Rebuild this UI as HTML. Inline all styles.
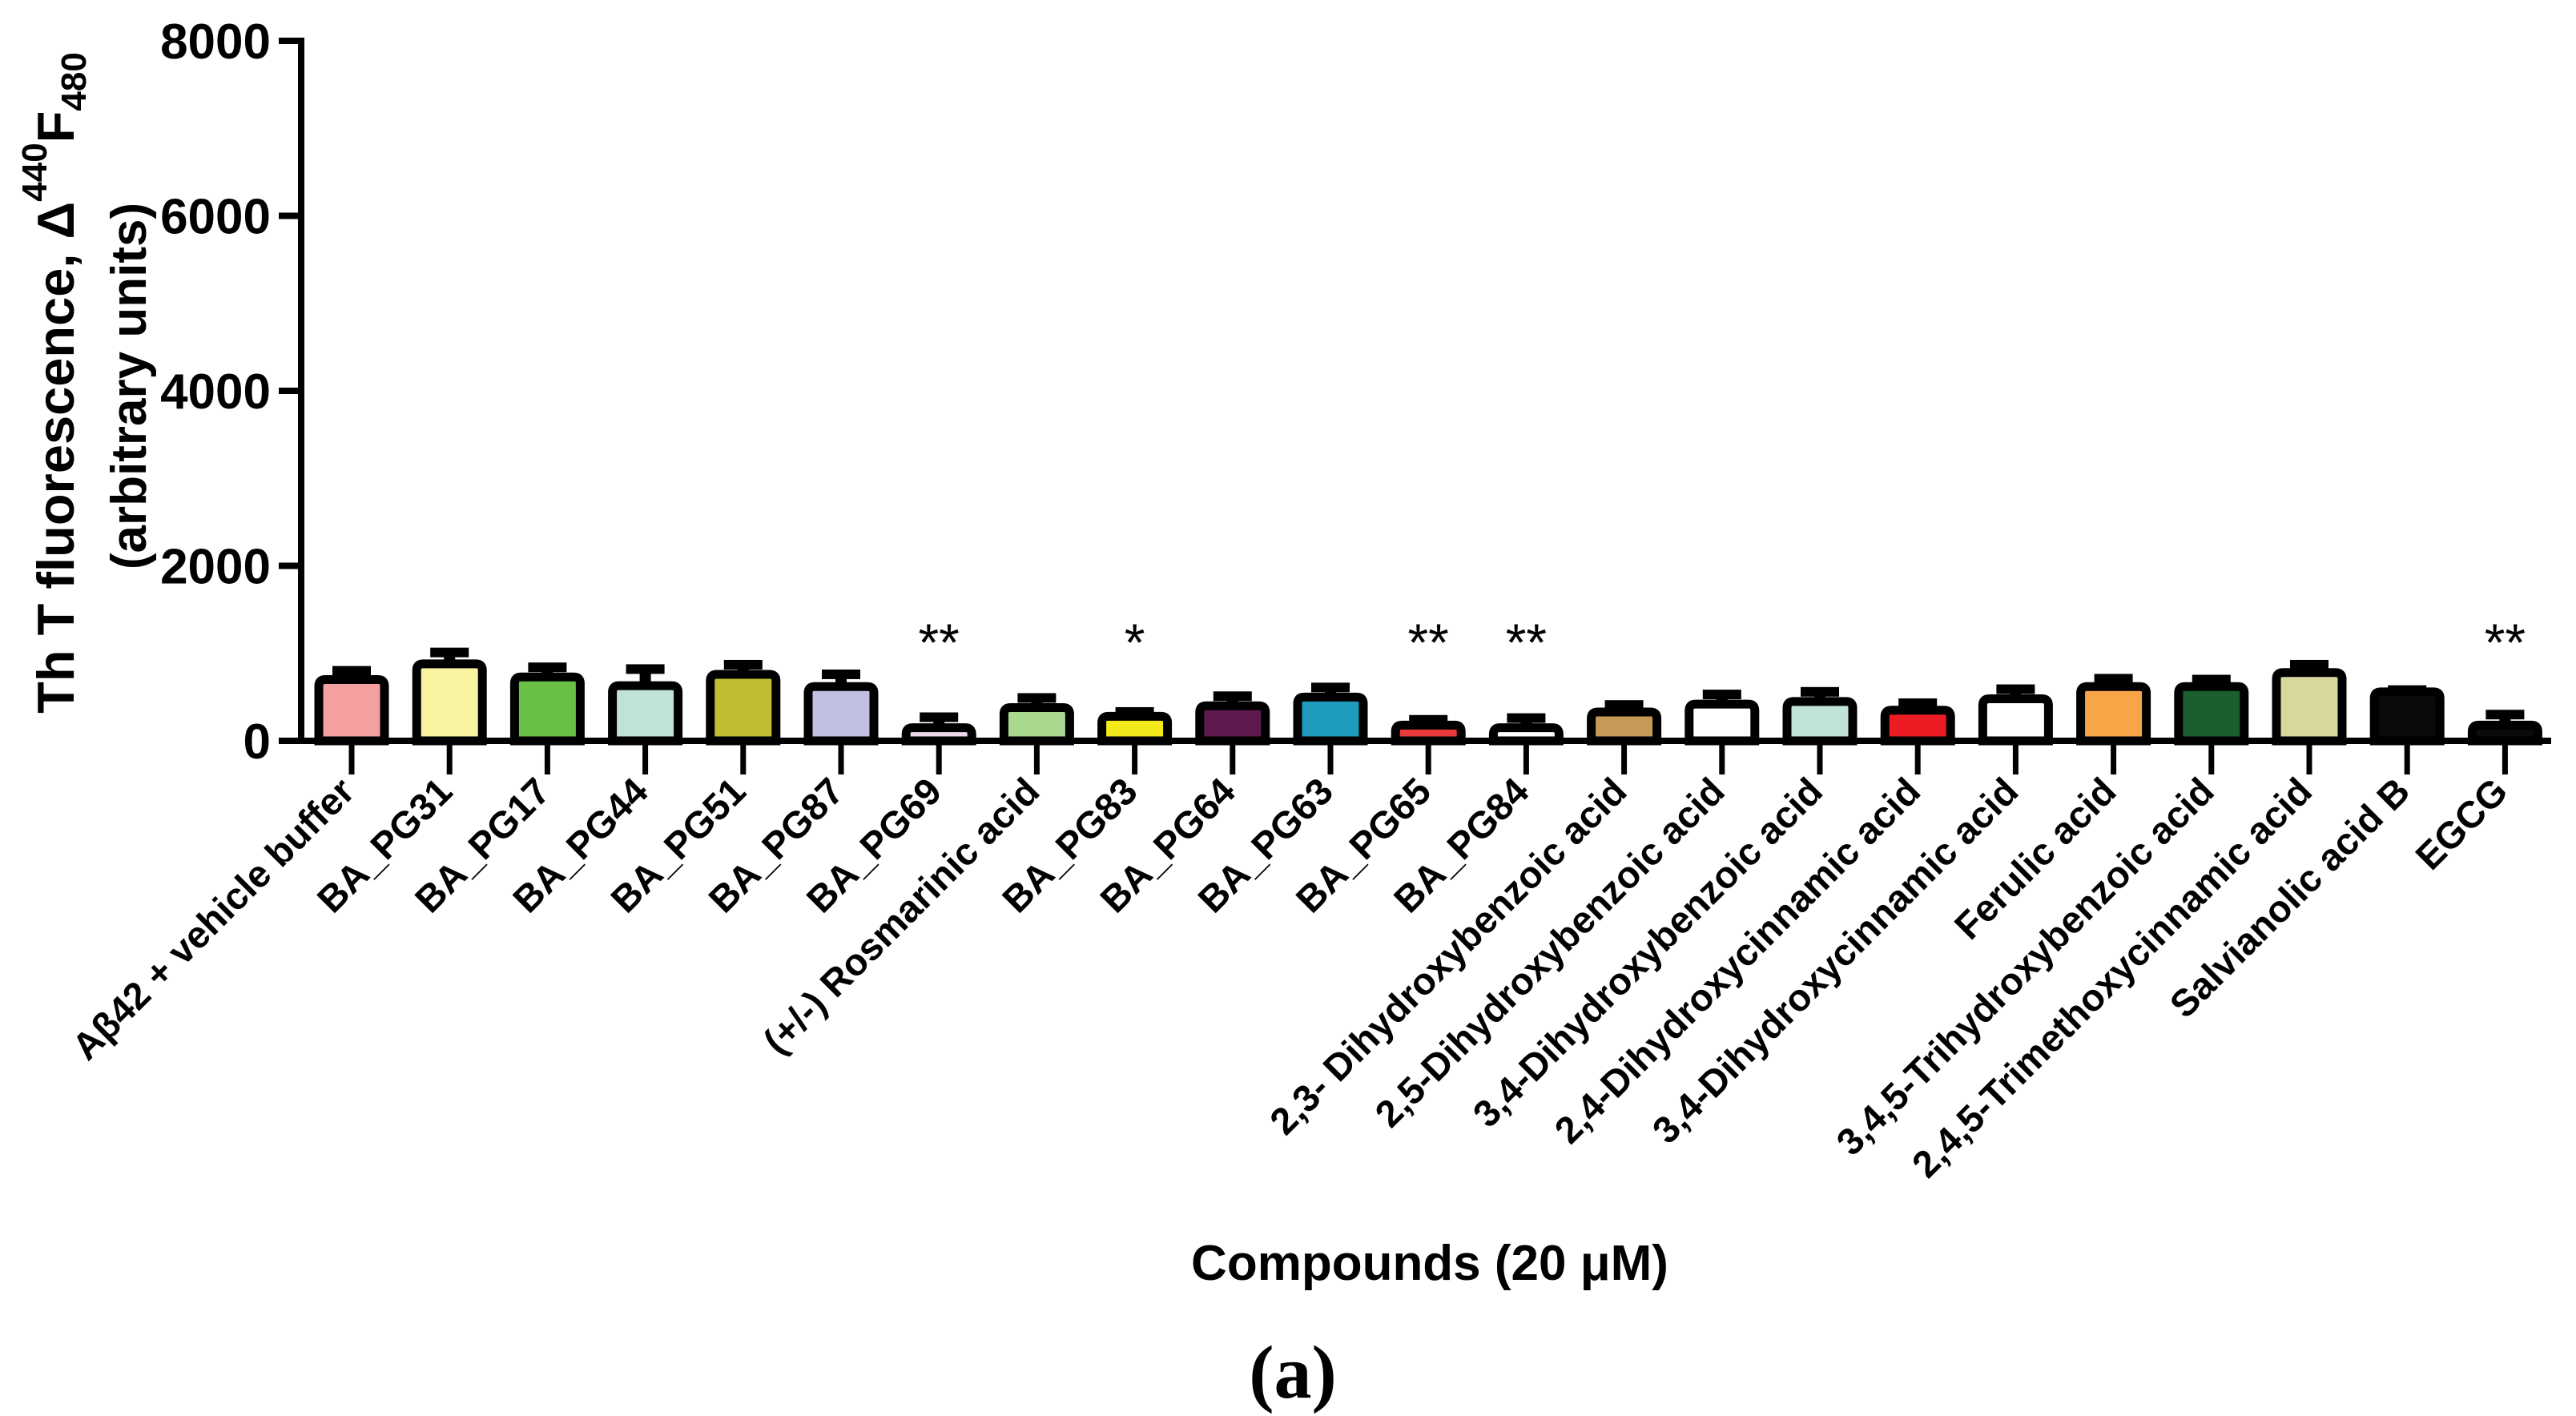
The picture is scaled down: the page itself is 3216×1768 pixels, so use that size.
<!DOCTYPE html>
<html><head><meta charset="utf-8"><style>
html,body{margin:0;padding:0;background:#fff;}
svg{display:block;}
text{font-family:"Liberation Sans",sans-serif;}
</style></head><body>
<svg id="chart" width="3216" height="1768" viewBox="0 0 3216 1768" xmlns="http://www.w3.org/2000/svg">
<g id="yaxis"></g>
<g id="bars"></g>
<g id="xlabels"></g>
<text transform="translate(92,478) rotate(-90)" text-anchor="middle" font-size="65" font-weight="bold">Th T fluorescence, Δ<tspan font-size="44" dy="-34">440</tspan><tspan dy="34">F</tspan><tspan font-size="44" dy="15">480</tspan></text>
<text transform="translate(182,482) rotate(-90)" text-anchor="middle" font-size="62" font-weight="bold">(arbitrary units)</text>
<text x="1785" y="1598" text-anchor="middle" font-size="62" font-weight="bold">Compounds (20 μM)</text>
<text x="1614" y="1745" text-anchor="middle" font-size="94" font-weight="bold" style="font-family:'Liberation Serif',serif">(a)</text>
</svg>
<script>
const categories = ["A\u03B242 + vehicle buffer","BA_PG31","BA_PG17","BA_PG44","BA_PG51","BA_PG87","BA_PG69","(+/-) Rosmarinic acid","BA_PG83","BA_PG64","BA_PG63","BA_PG65","BA_PG84","2,3- Dihydroxybenzoic acid","2,5-Dihydroxybenzoic acid","3,4-Dihydroxybenzoic acid","2,4-Dihydroxycinnamic acid","3,4-Dihydroxycinnamic acid","Ferulic acid","3,4,5-Trihydroxybenzoic acid","2,4,5-Trimethoxycinnamic acid","Salvianolic acid B","EGCG"];
const values = [700,880,730,630,760,620,150,380,280,400,500,180,150,330,420,450,350,480,620,620,780,560,180];
const errors = [100,130,110,190,110,140,120,110,50,110,110,60,110,80,110,110,80,110,90,80,90,20,120];
const colors = ["#f4a0a0","#f8f4a0","#6abf45","#bfe3d6","#c0bd30","#c2c0e2","#ecd9ec","#a9d88f","#f2e81a","#5e1a4e","#1f9bbd","#e83a3a","#ffffff","#c59a56","#ffffff","#bfe3d6","#ed1c24","#ffffff","#f7a547","#1b5e30","#d8d89c","#0a0a0a","#0a0a0a"];
const stars = ["","","","","","","**","","*","","","**","**","","","","","","","","","","**"];
const yTicks = [0,2000,4000,6000,8000];

const NS="http://www.w3.org/2000/svg";
const y0=925, pxPer=(925-51)/8000;
const yScale=v=>y0-v*pxPer;
const xScale=i=>439+i*122.2;
function mk(tag,attrs,parent){const e=document.createElementNS(NS,tag);for(const k in attrs)e.setAttribute(k,attrs[k]);parent.appendChild(e);return e;}
const ya=document.getElementById('yaxis'), bars=document.getElementById('bars'), xl=document.getElementById('xlabels');
let ln=mk('line',{x1:376,y1:yScale(8000)-4,x2:376,y2:y0+4,stroke:'#000','stroke-width':8},ya);


yTicks.forEach(t=>{
  const tk=mk('line',{x1:348,y1:yScale(t),x2:376,y2:yScale(t),stroke:'#000','stroke-width':8},ya);
  
  
  const tx=mk('text',{x:338,y:yScale(t)+22,'text-anchor':'end','font-size':62,'font-weight':'bold'},ya);
  tx.textContent=t;
  
  
});
const xa=mk('line',{x1:372,y1:y0,x2:3185,y2:y0,stroke:'#000','stroke-width':8},ya);


categories.forEach((c,i)=>{
  const cx=xScale(i), w=82, top=yScale(values[i]);
  const et=yScale(values[i]+errors[i]);
  const eb=mk('rect',{x:cx-7,y:et,width:14,height:top-et+4,fill:'#000'},bars);
  
  
  const cap=mk('rect',{x:cx-24,y:et-6,width:48,height:12,fill:'#000'},bars);
  
  
  const r=mk('path',{d:`M${cx-w/2},${y0} L${cx-w/2},${top+8} Q${cx-w/2},${top} ${cx-w/2+8},${top} L${cx+w/2-8},${top} Q${cx+w/2},${top} ${cx+w/2},${top+8} L${cx+w/2},${y0} Z`,fill:colors[i],stroke:'#000','stroke-width':11},bars);
  
  
  const tk=mk('line',{x1:cx,y1:y0,x2:cx,y2:y0+42,stroke:'#000','stroke-width':7},bars);
  
  
  if(stars[i]){
    const s=mk('text',{x:cx,y:825,'text-anchor':'middle','font-size':66},bars);
    s.textContent=stars[i];
    
    
  }
  const t=mk('text',{transform:`translate(${cx+6},${y0+66}) rotate(-45)`,'text-anchor':'end','font-size':47,'font-weight':'bold'},xl);
  t.textContent=c;
  
  
});
</script>
</body></html>
